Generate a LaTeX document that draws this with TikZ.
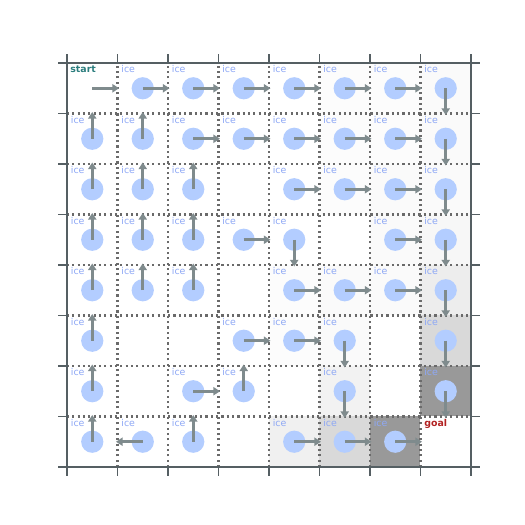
\documentclass[tikz,border=0pt]{standalone}
\usepackage{fontspec}
\setmainfont{DejaVu Sans}
\usepackage{tikz}
\usetikzlibrary{arrows.meta}
\definecolor{iceblue}{HTML}{B3CDFF}
\definecolor{icetext}{HTML}{8EA8F5}
\definecolor{arrowgray}{HTML}{7F8B8D}
\definecolor{framegray}{HTML}{555F63}
\definecolor{gridgray}{HTML}{6A6A6A}
\definecolor{startteal}{HTML}{2B7D7D}
\definecolor{goalred}{HTML}{B22222}

\begin{document}
\begin{tikzpicture}[
  x=1cm, y=1cm,
  cell/.style={rectangle, minimum size=1cm, inner sep=0pt, outer sep=0pt},
  icedot/.style={circle, fill=iceblue, minimum size=0.44cm, inner sep=0pt},
  celltag/.style={anchor=base west, inner sep=0pt, font=\fontsize{5.3}{6}\selectfont},
  icetag/.style={celltag, text=icetext},
  policy/.style={-{Triangle[length=0.13cm, width=0.16cm]}, line width=1.5pt, draw=arrowgray, shorten >=-0.03cm},
  gridline/.style={draw=gridgray, line width=1.2pt, dash pattern=on 1.2pt off 1.8pt},
  frameline/.style={draw=framegray, line width=1.1pt}
]
\useasboundingbox (-1.327,-1.149) rectangle (9.069,9.248);

% cells, row 0 at the top
\foreach \r in {0,...,7}
  \foreach \c in {0,...,7}
    \node[cell] (cell-\r-\c) at (\c+0.5, 7.5-\r) {};

% value shading
\foreach \r/\c/\p in {0/5/1,0/6/1,0/7/2,1/5/1,1/6/1,1/7/2,2/5/1,2/6/2,2/7/2,
                      3/6/2,3/7/3,4/4/1,4/5/2,4/6/2,4/7/7,5/4/1,5/5/2,5/7/15,
                      6/5/5,6/7/40,7/4/6,7/5/15,7/6/40}
  \fill[black!\p] (cell-\r-\c.south west) rectangle (cell-\r-\c.north east);

% grid, frame and ticks
\foreach \i in {1,...,7} {
  \draw[gridline] (\i,0) -- (\i,8);
  \draw[gridline] (0,\i) -- (8,\i);
}
\draw[frameline] (0,0) rectangle (8,8);
\foreach \i in {0,...,8} {
  \draw[frameline] (\i,8) -- (\i,8.17);
  \draw[frameline] (\i,0) -- (\i,-0.17);
  \draw[frameline] (-0.17,\i) -- (0,\i);
  \draw[frameline] (8,\i) -- (8.17,\i);
}

% start and goal
\node[celltag, text=startteal, font=\fontsize{5.3}{6}\selectfont\bfseries]
  (start) at ([xshift=0.06cm, yshift=-0.19cm]cell-0-0.north west) {start};
\draw[policy] (cell-0-0.center) -- (cell-0-0.east);
\node[celltag, text=goalred, font=\fontsize{5.3}{6}\selectfont\bfseries]
  (goal) at ([xshift=0.07cm, yshift=-0.19cm]cell-7-7.north west) {goal};

% ice cells with their greedy action
\foreach \r/\c/\d in {0/1/east,0/2/east,0/3/east,0/4/east,0/5/east,0/6/east,0/7/south,
                      1/0/north,1/1/north,1/2/east,1/3/east,1/4/east,1/5/east,1/6/east,1/7/south,
                      2/0/north,2/1/north,2/2/north,2/4/east,2/5/east,2/6/east,2/7/south,
                      3/0/north,3/1/north,3/2/north,3/3/east,3/4/south,3/6/east,3/7/south,
                      4/0/north,4/1/north,4/2/north,4/4/east,4/5/east,4/6/east,4/7/south,
                      5/0/north,5/3/east,5/4/east,5/5/south,5/7/south,
                      6/0/north,6/2/east,6/3/north,6/5/south,6/7/south,
                      7/0/north,7/1/west,7/2/north,7/4/east,7/5/east,7/6/east} {
  \node[icetag] (tag-\r-\c) at ([xshift=0.07cm, yshift=-0.19cm]cell-\r-\c.north west) {ice};
  \node[icedot] (dot-\r-\c) at (cell-\r-\c.center) {};
  \draw[policy] (cell-\r-\c.center) -- (cell-\r-\c.\d);
}
\end{tikzpicture}
\end{document}
